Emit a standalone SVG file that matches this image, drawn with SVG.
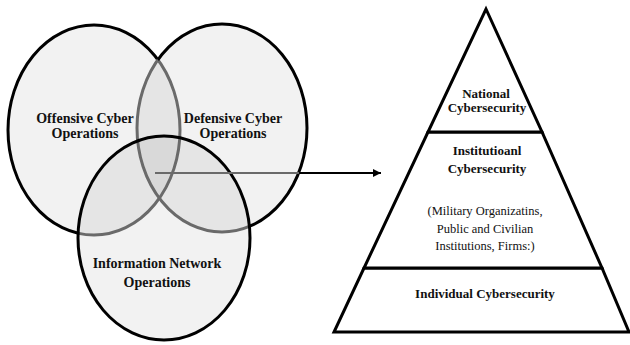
<svg xmlns="http://www.w3.org/2000/svg" width="630" height="345" viewBox="0 0 630 345">
  <style>
    .fill { fill: #000; fill-opacity: 0.05; stroke: none; }
    .edge { fill: none; stroke: #000; stroke-width: 3; }
    .inner { fill: none; stroke: #6a6a6a; stroke-width: 3; }
    .tier { fill: #fff; stroke: #000; stroke-width: 3; stroke-linejoin: miter; }
    .lbl { font-family: "Liberation Serif", "Times New Roman", serif; font-weight: bold; font-size: 14px; fill: #111; text-anchor: middle; }
    .plbl { font-family: "Liberation Serif", "Times New Roman", serif; font-weight: bold; font-size: 13px; fill: #111; text-anchor: middle; }
    .psub { font-family: "Liberation Serif", "Times New Roman", serif; font-size: 12.5px; fill: #111; text-anchor: middle; }
  </style>
  <defs>
    <clipPath id="inRB"><ellipse cx="222" cy="128" rx="85" ry="104"/><ellipse cx="164" cy="238" rx="86" ry="102"/></clipPath>
    <clipPath id="inLB"><ellipse cx="94" cy="130" rx="86" ry="105"/><ellipse cx="164" cy="238" rx="86" ry="102"/></clipPath>
    <mask id="outRB" maskUnits="userSpaceOnUse" x="0" y="0" width="630" height="345">
      <rect x="0" y="0" width="630" height="345" fill="#fff"/>
      <ellipse cx="222" cy="128" rx="85" ry="104" fill="#000"/>
      <ellipse cx="164" cy="238" rx="86" ry="102" fill="#000"/>
    </mask>
    <mask id="outLB" maskUnits="userSpaceOnUse" x="0" y="0" width="630" height="345">
      <rect x="0" y="0" width="630" height="345" fill="#fff"/>
      <ellipse cx="94" cy="130" rx="86" ry="105" fill="#000"/>
      <ellipse cx="164" cy="238" rx="86" ry="102" fill="#000"/>
    </mask>
    <marker id="arrowhead" viewBox="0 0 10 10" refX="10" refY="5" markerWidth="9" markerHeight="8" markerUnits="userSpaceOnUse" orient="auto">
      <path d="M0,0 L10,5 L0,10 Z" fill="#000"/>
    </marker>
  </defs>

  <rect x="0" y="0" width="630" height="345" fill="#fff"/>

  <!-- Venn fills -->
  <g id="venn-fills">
    <ellipse class="fill" cx="94" cy="130" rx="86" ry="105"/>
    <ellipse class="fill" cx="222" cy="128" rx="85" ry="104"/>
    <ellipse class="fill" cx="164" cy="238" rx="86" ry="102"/>
  </g>

  <g id="offensive-cyber-operations">
    <ellipse class="edge" cx="94" cy="130" rx="86" ry="105" mask="url(#outRB)"/>
    <ellipse class="inner" cx="94" cy="130" rx="86" ry="105" clip-path="url(#inRB)"/>
    <text class="lbl" x="85" y="123">Offensive Cyber</text>
    <text class="lbl" x="85" y="138">Operations</text>
  </g>

  <g id="defensive-cyber-operations">
    <ellipse class="edge" cx="222" cy="128" rx="85" ry="104" mask="url(#outLB)"/>
    <ellipse class="inner" cx="222" cy="128" rx="85" ry="104" clip-path="url(#inLB)"/>
    <text class="lbl" x="233" y="123">Defensive Cyber</text>
    <text class="lbl" x="233" y="138">Operations</text>
  </g>

  <g id="information-network-operations">
    <ellipse class="edge" cx="164" cy="238" rx="86" ry="102"/>
    <text class="lbl" x="157" y="268">Information Network</text>
    <text class="lbl" x="157" y="287">Operations</text>
  </g>

  <!-- Pyramid -->
  <g id="individual-cybersecurity">
    <polygon class="tier" points="364,268 602,268 629,332 334,332"/>
    <text class="plbl" x="485" y="298">Individual Cybersecurity</text>
  </g>
  <g id="institutional-cybersecurity">
    <polygon class="tier" points="428,132 542,132 602,268 364,268"/>
    <text class="plbl" x="487" y="155">Institutioanl</text>
    <text class="plbl" x="487" y="173">Cybersecurity</text>
    <text class="psub" x="485" y="215">(Military Organizatins,</text>
    <text class="psub" x="485" y="233">Public and Civilian</text>
    <text class="psub" x="485" y="250">Institutions, Firms:)</text>
  </g>
  <g id="national-cybersecurity">
    <polygon class="tier" points="486,9 542,132 428,132"/>
    <text class="plbl" x="486" y="98">National</text>
    <text class="plbl" x="487" y="112">Cybersecurity</text>
  </g>

  <g id="connectors">
    <line x1="155" y1="173" x2="299" y2="173" stroke="#6a6a6a" stroke-width="2.2"/>
    <line x1="299" y1="173" x2="381" y2="173" stroke="#000" stroke-width="2.2" marker-end="url(#arrowhead)"/>
  </g>
</svg>
